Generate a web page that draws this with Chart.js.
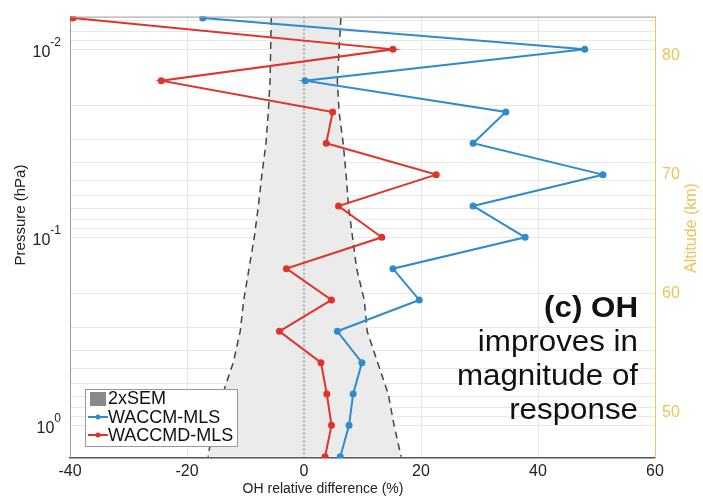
<!DOCTYPE html>
<html>
<head>
<meta charset="utf-8">
<script src="https://cdn.jsdelivr.net/npm/chart.js@4"></script>
<style>
  html, body { margin: 0; padding: 0; background: #fff; }
</style>
</head>
<body>
<canvas id="chart" width="703" height="497"></canvas>
<script>
// OH profile, relative difference vs MLS, top of the profile first.

const pressure = [0.00681, 0.01, 0.01468, 0.02154, 0.03162, 0.04642, 0.06813, 0.1, 0.1468, 0.2154, 0.3162, 0.4642, 0.6813, 1.0, 1.468];
const waccm  = [-17.3, 48.0, 0.2, 34.5, 28.9, 51.1, 28.9, 37.8, 15.2, 19.7, 5.7, 9.9, 8.4, 7.7, 6.2];
const waccmd = [-39.5, 15.2, -24.4, 4.9, 3.8, 22.6, 5.9, 13.3, -3.0, 4.7, -4.2, 2.9, 3.9, 4.7, 3.6];
const semLow  = [-5.6, -5.7, -5.8, -6.1, -6.5, -7.2, -7.8, -8.5, -9.4, -10.3, -10.9, -12.1, -13.9, -15.5, -16.4];
const semHigh = [6.3, 6.0, 5.7, 6.0, 6.7, 7.2, 7.6, 8.3, 9.0, 10.3, 10.8, 12.6, 14.4, 15.4, 16.6];

const xTicks = [-40, -20, 0, 20, 40, 60];
const pressureLabels = [0.01, 0.1, 1];
const altitudeTicks = [50, 60, 70, 80];

const pMin = 0.0067, pMax = 1.492;
const altMin = 46.2, altMax = 83.3;

const FONT = "'Liberation Sans', Arial, Helvetica, sans-serif";
const BLUE = '#2f8bcc';
const RED = '#e0332c';
const GOLD = '#ecc35c';

const pts = (xs) => xs.map((v, i) => ({ x: v, y: pressure[i] }));

// log minor gridlines 1..9 x 10^e
const gridValues = [];
for (let e = -3; e <= 0; e++) {
  for (let k = 1; k <= 9; k++) {
    const v = k * Math.pow(10, e);
    if (v >= pMin && v <= pMax) gridValues.push(v);
  }
}

const extras = {
  id: 'extras',
  afterDraw(chart) {
    const ctx = chart.ctx;
    const a = chart.chartArea;
    const ys = chart.scales.y;
    ctx.save();

    // top frame line
    ctx.strokeStyle = '#999';
    ctx.lineWidth = 1;
    ctx.beginPath();
    ctx.moveTo(a.left, a.top + 0.5);
    ctx.lineTo(a.right, a.top + 0.5);
    ctx.stroke();

    // pressure tick labels with exponent
    ctx.fillStyle = '#222';
    pressureLabels.forEach(p => {
      const y = ys.getPixelForValue(p);
      const e = Math.round(Math.log10(p));
      const sup = e === 0 ? '0' : '-' + Math.abs(e);
      ctx.font = '12px ' + FONT;
      const sw = ctx.measureText(sup).width;
      ctx.textAlign = 'left';
      ctx.textBaseline = 'middle';
      ctx.fillText(sup, 61 - sw, y - 7);
      ctx.font = '16px ' + FONT;
      ctx.textAlign = 'right';
      ctx.fillText('10', 61 - sw, y + 3);
    });

    // axis titles
    ctx.textAlign = 'center';
    ctx.textBaseline = 'middle';
    ctx.font = '14px ' + FONT;
    ctx.fillStyle = '#222';
    ctx.fillText('OH relative difference (%)', 323, 489);

    ctx.save();
    ctx.translate(21, 215);
    ctx.rotate(-Math.PI / 2);
    ctx.font = '15px ' + FONT;
    ctx.fillText('Pressure (hPa)', 0, 0);
    ctx.restore();

    ctx.save();
    ctx.translate(692, 228);
    ctx.rotate(-Math.PI / 2);
    ctx.font = '16px ' + FONT;
    ctx.fillStyle = GOLD;
    ctx.fillText('Altitude (km)', 0, 0);
    ctx.restore();

    // legend
    ctx.fillStyle = '#fff';
    ctx.fillRect(85.5, 389.5, 152, 57);
    ctx.strokeStyle = '#999';
    ctx.strokeRect(85.5, 389.5, 152, 57);
    ctx.fillStyle = '#8a8a8a';
    ctx.fillRect(90, 392, 16, 14);
    [[BLUE, 417], [RED, 435]].forEach(([c, y]) => {
      ctx.strokeStyle = c;
      ctx.lineWidth = 2;
      ctx.beginPath();
      ctx.moveTo(88, y);
      ctx.lineTo(108, y);
      ctx.stroke();
      ctx.fillStyle = c;
      ctx.beginPath();
      ctx.arc(98, y, 2.5, 0, Math.PI * 2);
      ctx.fill();
    });
    ctx.fillStyle = '#111';
    ctx.font = '18px ' + FONT;
    ctx.textAlign = 'left';
    ctx.fillText('2xSEM', 108, 399);
    ctx.fillText('WACCM-MLS', 108, 418);
    ctx.fillText('WACCMD-MLS', 108, 436);

    // panel note
    const lines = [
      ['(c) OH', 'bold', 317],
      ['improves in', 'normal', 351],
      ['magnitude of', 'normal', 385],
      ['response', 'normal', 419],
    ];
    ctx.fillStyle = '#111';
    ctx.textAlign = 'right';
    ctx.textBaseline = 'alphabetic';
    lines.forEach(([t, w, y]) => {
      ctx.save();
      ctx.translate(638, y);
      ctx.scale(1.08, 1);
      ctx.font = w + ' 29px ' + FONT;
      ctx.fillText(t, 0, 0);
      ctx.restore();
    });

    ctx.restore();
  }
};

new Chart(document.getElementById('chart').getContext('2d'), {
  type: 'line',
  data: {
    datasets: [
      {
        label: '2xSEM',
        data: pts(semLow),
        borderColor: '#444',
        borderWidth: 1.5,
        borderDash: [7, 5],
        backgroundColor: '#ebebeb',
        fill: '+1',
        pointRadius: 0,
        order: 5,
      },
      {
        label: '2xSEM high',
        data: pts(semHigh),
        borderColor: '#444',
        borderWidth: 1.5,
        borderDash: [7, 5],
        fill: false,
        pointRadius: 0,
        order: 4,
      },
      {
        label: 'zero',
        data: [{ x: 0, y: pMin }, { x: 0, y: pMax }],
        borderColor: '#777',
        borderWidth: 1,
        borderDash: [2, 2],
        pointRadius: 0,
        fill: false,
        order: 3,
      },
      {
        label: 'WACCM-MLS',
        data: pts(waccm),
        borderColor: BLUE,
        backgroundColor: BLUE,
        borderWidth: 2,
        pointRadius: 2.5,
        fill: false,
        order: 2,
      },
      {
        label: 'WACCMD-MLS',
        data: pts(waccmd),
        borderColor: RED,
        backgroundColor: RED,
        borderWidth: 2,
        pointRadius: 2.5,
        fill: false,
        order: 1,
      },
    ]
  },
  options: {
    responsive: false,
    animation: false,
    indexAxis: 'y',
    layout: { padding: { top: 12, left: 0, right: 0, bottom: 0 } },
    plugins: {
      legend: { display: false },
      tooltip: { enabled: false },
    },
    scales: {
      x: {
        type: 'linear',
        position: 'bottom',
        min: -40,
        max: 60,
        afterBuildTicks(s) { s.ticks = xTicks.map(v => ({ value: v })); },
        ticks: { color: '#222', font: { size: 16, family: FONT }, padding: 4, maxRotation: 0 },
        grid: {
          color: ctx => (ctx.tick && ctx.tick.value === 0) ? 'rgba(0,0,0,0)' : '#e6e6e6',
          drawTicks: false,
        },
        border: { color: '#555', width: 1.5 },
        afterFit(s) { s.height = 39; },
      },
      y: {
        type: 'logarithmic',
        position: 'left',
        reverse: true,
        min: pMin,
        max: pMax,
        afterBuildTicks(s) { s.ticks = gridValues.map(v => ({ value: v })); },
        ticks: { display: false },
        grid: { color: '#e8e8e8', drawTicks: false },
        border: { color: '#999' },
        afterFit(s) { s.width = 70; },
      },
      alt: {
        type: 'linear',
        axis: 'y',
        position: 'right',
        min: altMin,
        max: altMax,
        afterBuildTicks(s) { s.ticks = altitudeTicks.map(v => ({ value: v })); },
        ticks: { color: GOLD, font: { size: 16, family: FONT }, padding: 7 },
        grid: { display: false, drawTicks: false },
        border: { color: GOLD },
        afterFit(s) { s.width = 48; },
      },
    }
  },
  plugins: [extras]
});
</script>
</body>
</html>
